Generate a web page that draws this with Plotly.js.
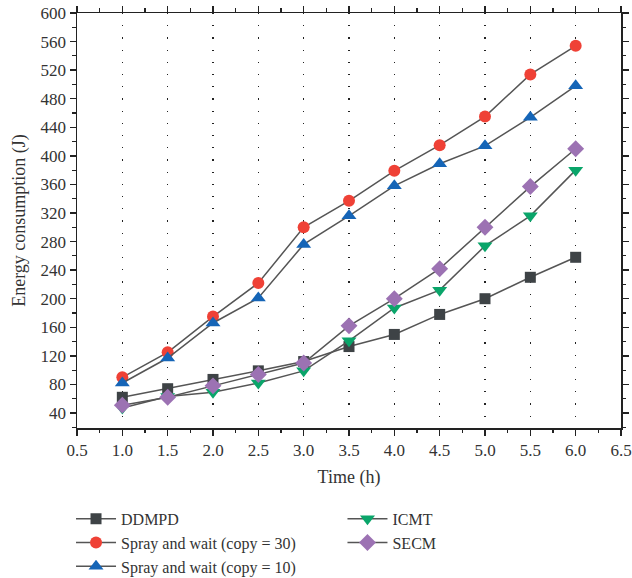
<!DOCTYPE html>
<html><head><meta charset="utf-8">
<script src="https://cdn.plot.ly/plotly-3.0.1.min.js"></script>
<style>html,body{margin:0;padding:0;background:#fff}#chart{width:632px;height:578px}</style>
</head><body><div id="chart"></div>
<script>
const time = [1.0, 1.5, 2.0, 2.5, 3.0, 3.5, 4.0, 4.5, 5.0, 5.5, 6.0];
const ddmpd = [62, 74, 87, 99, 112, 133, 150, 178, 200, 230, 258];
const spray30 = [90, 125, 175, 222, 300, 337, 379, 415, 455, 514, 554];
const spray10 = [82, 117, 166, 201, 276, 316, 358, 389, 414, 454, 498];
const icmt = [47, 63, 69, 82, 99, 141, 187, 212, 274, 316, 380];
const secm = [51, 62, 78, 94, 110, 162, 200, 242, 300, 357, 410];
const seriesNames = ["DDMPD", "Spray and wait (copy = 30)", "Spray and wait (copy = 10)", "ICMT", "SECM"];
const xTicks = [0.5, 1.0, 1.5, 2.0, 2.5, 3.0, 3.5, 4.0, 4.5, 5.0, 5.5, 6.0, 6.5];
const xTickText = ["0.5","1.0","1.5","2.0","2.5","3.0","3.5","4.0","4.5","5.0","5.5","6.0","6.5"];

const lineColor = "#555555";
const font = "Liberation Serif, DejaVu Serif, serif";
function tr(y, name, sym, color, legend, size) {
  return {x: time, y: y, name: name, type: "scatter", mode: "lines+markers",
    line: {color: lineColor, width: 1.5},
    marker: {symbol: sym, color: color, size: size || 12, line: {width: 0}},
    legend: legend};
}
const data = [
  tr(ddmpd, seriesNames[0], "square", "#3e4346", "legend", 11),
  tr(spray30, seriesNames[1], "circle", "#ef4136", "legend", 12),
  tr(spray10, seriesNames[2], "triangle-up", "#1565b7", "legend", 13),
  tr(icmt, seriesNames[3], "triangle-down", "#0aa56a", "legend2", 13),
  tr(secm, seriesNames[4], "diamond", "#9c72b3", "legend2", 13)
];
const axisCommon = {
  showline: true, linecolor: "#222", linewidth: 1.5, mirror: "allticks",
  ticks: "outside", ticklen: 6, tickwidth: 1.3, tickcolor: "#222",
  zeroline: false, tickfont: {family: font, size: 17, color: "#333"}
};
const layout = {
  width: 632, height: 578,
  margin: {l: 77, r: 11, t: 13, b: 150, autoexpand: false},
  paper_bgcolor: "#fff", plot_bgcolor: "#fff",
  font: {family: font, color: "#333"},
  xaxis: Object.assign({}, axisCommon, {
    range: [0.5, 6.5], tickvals: xTicks, ticktext: xTickText,
    showgrid: true, gridcolor: "#222", gridwidth: 1.2, griddash: "1.2px,11px",
    minor: {ticks: "outside", ticklen: 3.5, tickwidth: 1.2, tickcolor: "#222", dtick: 0.25, tick0: 0.5, showgrid: false},
    title: {text: "Time (h)", font: {family: font, size: 18, color: "#333"}, standoff: 11}
  }),
  yaxis: Object.assign({}, axisCommon, {
    range: [19, 600], tick0: 40, dtick: 40, showgrid: false,
    minor: {ticks: "outside", ticklen: 3.5, tickwidth: 1.2, tickcolor: "#222", dtick: 20, tick0: 40, showgrid: false},
    title: {text: "Energy consumption (J)", font: {family: font, size: 18, color: "#333"}, standoff: 10}
  }),
  showlegend: true,
  legend: {x: -0.011, y: -0.178, xanchor: "left", yanchor: "top", orientation: "v",
    font: {family: font, size: 16, color: "#333"}, tracegroupgap: 0, bgcolor: "rgba(0,0,0,0)", itemwidth: 40},
  legend2: {x: 0.488, y: -0.178, xanchor: "left", yanchor: "top", orientation: "v",
    font: {family: font, size: 16, color: "#333"}, tracegroupgap: 0, bgcolor: "rgba(0,0,0,0)", itemwidth: 40}
};
Plotly.newPlot("chart", data, layout, {displayModeBar: false, staticPlot: true});
</script></body></html>
